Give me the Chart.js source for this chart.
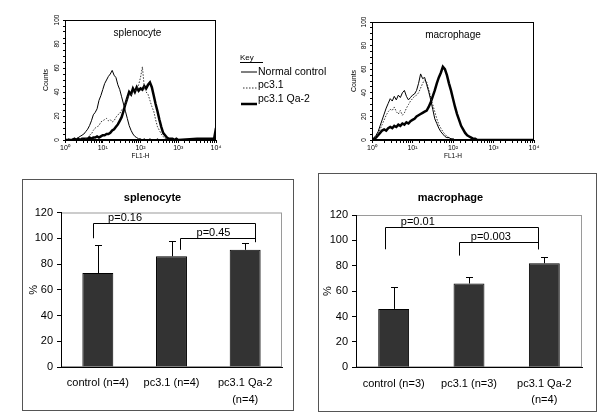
<!DOCTYPE html>
<html>
<head>
<meta charset="utf-8">
<script src="https://cdn.jsdelivr.net/npm/chart.js@4.4.1/dist/chart.umd.min.js"></script>
<style>
  body { margin: 0; width: 600px; height: 418px; background: #fff; position: relative; overflow: hidden; }
  .box { position: absolute; }
  .framed { border: 1px solid #555; box-sizing: border-box; }
</style>
</head>
<body>
<div class="box" style="left:0;top:0;width:350px;height:165px"><canvas id="histSpl"></canvas></div>
<div class="box" style="left:330px;top:0;width:220px;height:165px"><canvas id="histMac"></canvas></div>
<div class="box framed" style="left:22px;top:179px;width:272px;height:232px"><canvas id="barSpl"></canvas></div>
<div class="box framed" style="left:318px;top:173px;width:279px;height:239px"><canvas id="barMac"></canvas></div>
<script>
// ---- flow histograms: log10(FL1-H) channel grid, counts per series ----
const fl1Grid = [0.00,0.05,0.10,0.15,0.20,0.25,0.30,0.35,0.40,0.45,
  0.50,0.55,0.60,0.65,0.70,0.75,0.80,0.85,0.90,0.95,
  1.00,1.05,1.10,1.15,1.20,1.25,1.30,1.35,1.40,1.45,
  1.50,1.55,1.60,1.65,1.70,1.75,1.80,1.85,1.90,1.95,
  2.00,2.05,2.10,2.15,2.20,2.25,2.30,2.35,2.40,2.45,
  2.50,2.55,2.60,2.65,2.70,2.75,2.80,2.85,2.90,2.95,
  3.00,3.50,3.95,4.00];
const keyLabels = ['Normal control', 'pc3.1', 'pc3.1 Qa-2'];

const splControl = [0,0,1,0,1,1,1,2,3,4, 5,7,9,12,16,21,23,26,33,37,
  42,47,50,53,55,58,54,52,46,42, 36,30,24,18,12,8,5,3,2,1,
  1,0,1,0,0,1,0,0,0,1, 0,0,0,0,0,0,0,0,0,0, 0,0,0,0];
const splPc31 = [0,0,0,0,0,0,0,0,0,1, 0,1,2,4,5,8,10,11,12,15,
  16,17,18,16,17,15,16,19,21,22, 25,27,30,35,38,37,40,41,42,46,
  52,61,44,40,38,33,28,24,17,11, 8,5,3,1,1,0,0,0,0,0, 0,0,0,0];
const splQa2 = [0,0,0,0,0,1,0,1,0,1, 1,1,1,2,1,2,2,3,2,3,
  4,4,5,5,6,8,9,11,13,16, 19,24,30,35,40,38,43,40,44,41,
  43,42,45,43,46,48,44,37,30,24, 17,11,6,4,2,1,1,1,0,1, 0,1,1,10];

const macControl = [0,2,4,7,12,17,22,27,31,35, 33,37,34,38,36,40,42,37,34,36,
  38,39,42,48,56,52,53,47,41,34, 26,18,14,10,7,5,3,2,2,1,
  1,0,0,0,0,0,0,0,0,0, 0,0,0,0,0,0,0,0,0,0, 0,0,0,0];
const macPc31 = [0,1,3,5,9,13,17,21,24,26, 25,28,24,22,25,21,23,27,30,33,
  35,37,38,40,44,48,51,49,43,36, 30,24,18,13,10,7,5,3,2,1,
  1,0,0,0,0,0,0,0,0,0, 0,0,0,0,0,0,0,0,0,0, 0,0,0,0];
const macQa2 = [0,1,2,4,6,8,9,8,10,11, 10,12,11,13,12,14,13,15,14,16,
  17,18,20,21,22,23,24,25,28,32, 37,42,48,53,57,62,60,55,48,42,
  35,28,22,17,12,9,6,4,3,2, 1,1,0,0,0,0,0,0,0,0, 0,0,0,0];

// ---- bar charts ----
const splCategories = ['control (n=4)', 'pc3.1 (n=4)', ['pc3.1 Qa-2', '(n=4)']];
const splMeans = [73, 86, 91];
const splErrors = [22, 12, 5];
const splBrackets = [
  { from: 0, to: 2, top: 111.5, fromEnd: 100, toEnd: 97, label: 'p=0.16' },
  { from: 1, to: 2, top: 100, fromEnd: 91, toEnd: 97, label: 'p=0.45' }
];

const macCategories = ['control (n=3)', 'pc3.1 (n=3)', ['pc3.1 Qa-2', '(n=4)']];
const macMeans = [46, 66, 82];
const macErrors = [17, 5, 5];
const macBrackets = [
  { from: 0, to: 2, top: 110.8, fromEnd: 93, toEnd: 93, label: 'p=0.01' },
  { from: 1, to: 2, top: 98.5, fromEnd: 88, toEnd: 93, label: 'p=0.003' }
];

Chart.defaults.font.family = "'Liberation Sans', Arial, sans-serif";
Chart.defaults.color = '#000';
Chart.defaults.animation = false;

const SUP = ['\u2070', '\u00b9', '\u00b2', '\u00b3', '\u2074'];

// frame, inner label and key for the histograms
const histDecor = {
  id: 'histDecor',
  afterDraw(chart, args, o) {
    const { ctx, chartArea: a } = chart;
    ctx.save();
    ctx.strokeStyle = '#000';
    ctx.lineWidth = 1;
    ctx.strokeRect(a.left + 0.5, a.top + 0.5, a.width - 1, a.height - 1);
    ctx.fillStyle = '#000';
    ctx.font = "10px 'Liberation Sans', Arial";
    ctx.textAlign = 'center';
    ctx.textBaseline = 'middle';
    ctx.fillText(o.label, a.left + a.width * o.labelAt, a.top + 13);
    if (o.key) {
      const kx = a.right + 24;
      ctx.textAlign = 'left';
      ctx.font = "8px 'Liberation Sans', Arial";
      ctx.fillText('Key', kx, a.top + 38);
      ctx.beginPath();
      ctx.moveTo(kx, a.top + 42.5);
      ctx.lineTo(kx + 23, a.top + 42.5);
      ctx.stroke();
      ctx.font = "10.5px 'Liberation Sans', Arial";
      chart.data.datasets.forEach((ds, i) => {
        const ty = a.top + 52 + i * 13.5;
        const ly = ty + i * 2.5;
        ctx.save();
        ctx.strokeStyle = ds.borderColor;
        ctx.lineWidth = ds.borderWidth;
        ctx.setLineDash(ds.borderDash || []);
        ctx.beginPath();
        ctx.moveTo(kx + (ds.borderDash ? 3 : 1), ly);
        ctx.lineTo(kx + 17, ly);
        ctx.stroke();
        ctx.restore();
        ctx.fillText(ds.label, kx + 18, ty);
      });
    }
    ctx.restore();
  }
};

function makeHist(id, series, opts) {
  const styles = [
    { borderColor: '#000', borderWidth: 1 },
    { borderColor: '#333', borderWidth: 1, borderDash: [1.5, 1.5] },
    { borderColor: '#000', borderWidth: 2.5 }
  ];
  return new Chart(document.getElementById(id), {
    type: 'line',
    data: {
      datasets: series.map((s, k) => Object.assign({
        label: keyLabels[k],
        data: fl1Grid.map((e, i) => ({ x: Math.pow(10, e), y: s[i] })),
        pointRadius: 0,
        tension: 0,
        fill: false
      }, styles[k]))
    },
    options: {
      responsive: true,
      maintainAspectRatio: false,
      layout: { padding: { top: opts.top, right: opts.right, left: 0, bottom: 0 } },
      plugins: {
        legend: { display: false },
        tooltip: { enabled: false },
        histDecor: { label: opts.label, labelAt: opts.labelAt, key: opts.key }
      },
      scales: {
        x: {
          type: 'logarithmic',
          min: 1,
          max: 10000,
          afterFit: s => { s.height = 25; },
          grid: { drawOnChartArea: false, tickLength: 3, color: '#000' },
          border: { color: '#000' },
          ticks: {
            autoSkip: false,
            maxRotation: 0,
            padding: 1,
            font: { size: 7 },
            callback: v => {
              const e = Math.log10(v);
              return Math.abs(e - Math.round(e)) < 1e-6 ? '10' + SUP[Math.round(e)] : '';
            }
          },
          title: { display: true, text: 'FL1-H', font: { size: 6.5 }, padding: { top: 0, bottom: 5 } }
        },
        y: {
          min: 0,
          max: 100,
          afterFit: s => { s.width = opts.yWidth; },
          grid: { drawOnChartArea: false, tickLength: 2, color: '#000' },
          border: { color: '#000' },
          ticks: {
            stepSize: 5,
            autoSkip: false,
            minRotation: 90,
            maxRotation: 90,
            crossAlign: 'center',
            padding: 0,
            font: { size: 6.5 },
            callback: v => (v % 20 === 0 ? v : '')
          },
          title: { display: true, text: 'Counts', font: { size: 7 }, padding: { top: opts.titlePad, bottom: 0 } }
        }
      }
    },
    plugins: [histDecor]
  });
}

makeHist('histSpl', [splControl, splPc31, splQa2],
  { label: 'splenocyte', labelAt: 0.48, key: true, top: 20, right: 134, yWidth: 65, titlePad: 42 });
makeHist('histMac', [macControl, macPc31, macQa2],
  { label: 'macrophage', labelAt: 0.5, key: false, top: 22, right: 16, yWidth: 42, titlePad: 20 });

// grey plot-area frame, error bars and p-value brackets
const barDecor = {
  id: 'barDecor',
  beforeDraw(chart) {
    const { ctx, chartArea: a } = chart;
    ctx.save();
    ctx.strokeStyle = '#9a9a9a';
    ctx.lineWidth = 1;
    ctx.strokeRect(a.left + 0.5, a.top + 0.5, a.width - 1, a.height - 1);
    ctx.restore();
  },
  afterDatasetsDraw(chart, args, o) {
    const { ctx } = chart;
    const xs = chart.scales.x, ys = chart.scales.y;
    const meta = chart.getDatasetMeta(0);
    const vals = chart.data.datasets[0].data;
    ctx.save();
    ctx.strokeStyle = '#000';
    ctx.lineWidth = 1;
    meta.data.forEach((bar, i) => {
      const x = Math.round(bar.x) + 0.5;
      const top = Math.round(ys.getPixelForValue(vals[i] + o.errors[i])) + 0.5;
      ctx.beginPath();
      ctx.moveTo(x, bar.y);
      ctx.lineTo(x, top);
      ctx.moveTo(x - 3.5, top);
      ctx.lineTo(x + 3.5, top);
      ctx.stroke();
    });
    ctx.fillStyle = '#000';
    ctx.font = "11px 'Liberation Sans', Arial";
    ctx.textAlign = 'center';
    ctx.textBaseline = 'alphabetic';
    o.brackets.forEach((b, k) => {
      const lay = o.layout[k];
      const x1 = Math.round(xs.getPixelForValue(b.from + lay.dFrom)) + 0.5;
      const x2 = Math.round(xs.getPixelForValue(b.to + lay.dTo)) + 0.5;
      const yt = Math.round(ys.getPixelForValue(b.top)) + 0.5;
      ctx.beginPath();
      ctx.moveTo(x1, ys.getPixelForValue(b.fromEnd));
      ctx.lineTo(x1, yt);
      ctx.lineTo(x2, yt);
      ctx.lineTo(x2, ys.getPixelForValue(b.toEnd));
      ctx.stroke();
      ctx.fillText(b.label, xs.getPixelForValue(lay.labelAt), yt - 3);
    });
    ctx.restore();
  }
};

function makeBar(id, cats, means, errors, brackets, opts) {
  return new Chart(document.getElementById(id), {
    type: 'bar',
    data: {
      labels: cats,
      datasets: [{
        data: means,
        backgroundColor: '#333333',
        borderColor: '#000',
        borderWidth: 1,
        categoryPercentage: 1,
        barPercentage: opts.barPct
      }]
    },
    options: {
      responsive: true,
      maintainAspectRatio: false,
      layout: { padding: { top: 0, right: opts.right, left: 0, bottom: 0 } },
      plugins: {
        legend: { display: false },
        tooltip: { enabled: false },
        title: {
          display: true,
          text: opts.title,
          font: { size: 11, weight: 'bold' },
          padding: { top: opts.titleTop, bottom: opts.titleBottom }
        },
        barDecor: { errors: errors, brackets: brackets, layout: opts.bracketLayout }
      },
      scales: {
        x: {
          afterFit: s => { s.height = opts.xHeight; },
          grid: { display: false, drawTicks: false },
          border: { display: true, color: '#000' },
          ticks: { padding: 8, font: { size: 11, lineHeight: 1.5 }, maxRotation: 0 }
        },
        y: {
          min: 0,
          max: 120,
          afterFit: s => { s.width = opts.yWidth; },
          grid: { drawOnChartArea: false, tickLength: 4, color: '#000' },
          border: { color: '#000' },
          ticks: { stepSize: 20, padding: 4, font: { size: 11 } },
          title: { display: true, text: '%', font: { size: 11 }, padding: { top: opts.pctPad, bottom: 0 } }
        }
      }
    },
    plugins: [barDecor]
  });
}

makeBar('barSpl', splCategories, splMeans, splErrors, splBrackets, {
  title: 'splenocyte', barPct: 0.42, right: 11, yWidth: 38, xHeight: 43,
  titleTop: 11.4, titleBottom: 7.9, pctPad: 4.4,
  bracketLayout: [{ dFrom: -0.07, dTo: 0.14, labelAt: 0.37 }, { dFrom: 0.12, dTo: 0.14, labelAt: 1.57 }]
});
makeBar('barMac', macCategories, macMeans, macErrors, macBrackets, {
  title: 'macrophage', barPct: 0.41, right: 14, yWidth: 37, xHeight: 43.7,
  titleTop: 17.4, titleBottom: 10.4, pctPad: 2.4,
  bracketLayout: [{ dFrom: -0.12, dTo: -0.09, labelAt: 0.32 }, { dFrom: -0.13, dTo: -0.09, labelAt: 1.29 }]
});
</script>
</body>
</html>
